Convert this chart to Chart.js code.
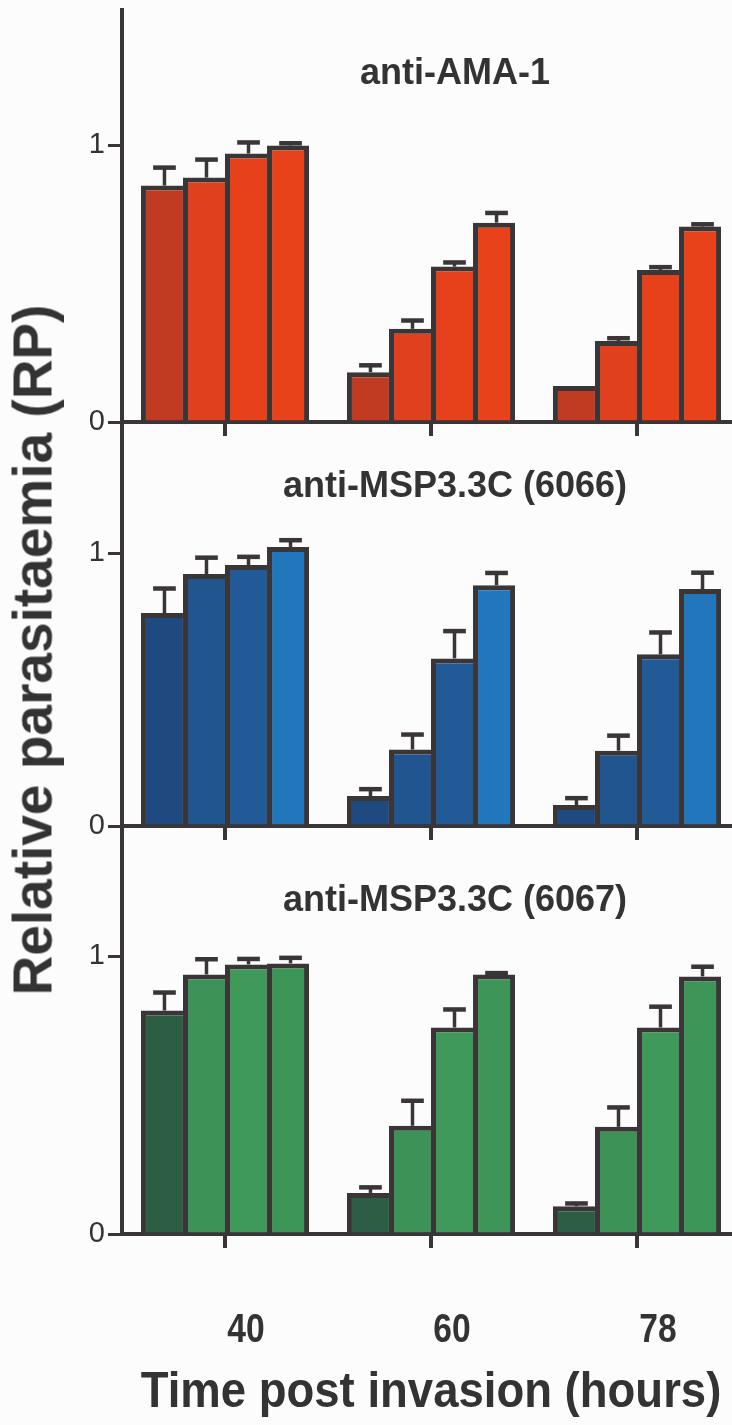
<!DOCTYPE html>
<html>
<head>
<meta charset="utf-8">
<script src="https://cdn.jsdelivr.net/npm/chart.js@4.4.1/dist/chart.umd.min.js"></script>
<style>
  body { margin: 0; background: #fcfcfc; overflow: hidden; }
  #figure { position: relative; width: 732px; height: 1425px; overflow: hidden; background: #fcfcfc; }
  #figure canvas { position: absolute; left: 0; }
  .label {
    position: absolute;
    white-space: nowrap;
    font-family: 'Liberation Sans', Arial, Helvetica, sans-serif;
    font-weight: bold;
    color: #333;
    line-height: 1;
    z-index: 5;
  }
  .panel-title { font-size: 36px; left: 455px; transform: translate(-50%, -50%); }
  #yTitle { font-size: 55px; left: 33px; top: 650px; transform: translate(-50%, -50%) rotate(-90deg); }
  #xTitle { font-size: 50px; left: 431px; top: 1390px; transform: translate(-50%, -50%) scaleX(0.91); }
</style>
</head>
<body>
<div id="figure">
  <canvas id="panelAma" width="740" height="452"></canvas>
  <canvas id="panel6066" width="740" height="444"></canvas>
  <canvas id="panel6067" width="740" height="598"></canvas>
  <div class="label panel-title" id="title0" style="top:72px"></div>
  <div class="label panel-title" id="title1" style="top:485px"></div>
  <div class="label panel-title" id="title2" style="top:899px"></div>
  <div class="label" id="yTitle">Relative parasitaemia (RP)</div>
  <div class="label" id="xTitle">Time post invasion (hours)</div>
</div>
<script>
const timepoints = ['40', '60', '78'];
const panelTitles = ['anti-AMA-1', 'anti-MSP3.3C (6066)', 'anti-MSP3.3C (6067)'];
const yTicks = [0, 1];

// one row per bar position inside a time group (4 bars per group)
const ama1Mean = [
  [0.855, 0.18, 0.13],
  [0.884, 0.337, 0.293],
  [0.971, 0.562, 0.55],
  [1.0, 0.721, 0.707]
];
const ama1Err = [
  [0.065, 0.025, 0],
  [0.065, 0.03, 0.01],
  [0.04, 0.015, 0.01],
  [0.008, 0.035, 0.008]
];

const msp6066Mean = [
  [0.78, 0.11, 0.077],
  [0.923, 0.28, 0.276],
  [0.956, 0.614, 0.629],
  [1.022, 0.882, 0.868]
];
const msp6066Err = [
  [0.09, 0.025, 0.025],
  [0.06, 0.055, 0.055],
  [0.03, 0.1, 0.08],
  [0.025, 0.045, 0.06]
];

const msp6067Mean = [
  [0.805, 0.148, 0.10],
  [0.935, 0.39, 0.386],
  [0.971, 0.744, 0.744],
  [0.975, 0.935, 0.928]
];
const msp6067Err = [
  [0.065, 0.02, 0.01],
  [0.055, 0.09, 0.07],
  [0.02, 0.065, 0.075],
  [0.02, 0.005, 0.035]
];

const ama1Colors = ['#c03b22', '#e0401d', '#e6411b', '#e8421a'];
const msp6066Colors = ['#1f4a80', '#20558f', '#215a96', '#2176bc'];
const msp6067Colors = ['#2b5e42', '#3d9357', '#3f995b', '#3d9558'];

const AXIS = '#3a3536';
const TEXT = '#333';
const FONT = "'Liberation Sans', Arial, Helvetica, sans-serif";
const PAD_TOP = 20;
const BORDER = 5;

// only the upper half of each error bar is drawn, like the usual bar+SEM style
const errorBarPlugin = {
  id: 'errorBars',
  afterDatasetsDraw(chart, args, opts) {
    const ctx = chart.ctx;
    const y = chart.scales.y;
    ctx.save();
    ctx.strokeStyle = AXIS;
    chart.data.datasets.forEach((ds, k) => {
      chart.getDatasetMeta(k).data.forEach((bar, i) => {
        const e = opts.errors[k][i];
        if (!e) return;
        const cx = bar.x + BORDER / 2;
        const top = y.getPixelForValue(ds.data[i] + e);
        const half = bar.width * 0.27;
        ctx.lineWidth = 3.5;
        ctx.beginPath();
        ctx.moveTo(cx, bar.y);
        ctx.lineTo(cx, top);
        ctx.stroke();
        ctx.lineWidth = 4.5;
        ctx.beginPath();
        ctx.moveTo(cx - half, top);
        ctx.lineTo(cx + half, top);
        ctx.stroke();
      });
    });
    ctx.restore();
  },
  afterDraw(chart, args, opts) {
    if (!opts.showLabels) return;
    const ctx = chart.ctx;
    const xs = chart.scales.x;
    ctx.save();
    ctx.fillStyle = TEXT;
    ctx.font = 'bold 40px ' + FONT;
    ctx.textAlign = 'center';
    ctx.textBaseline = 'middle';
    timepoints.forEach((t, i) => {
      ctx.save();
      ctx.translate(xs.getPixelForValue(i) + 21, chart.chartArea.bottom + 97);
      ctx.scale(0.84, 1);
      ctx.fillText(t, 0, 0);
      ctx.restore();
    });
    ctx.restore();
  }
};

function makePanel(canvasId, means, errs, colors, axisTop, axisBottom, yMax, showLabels) {
  const canvas = document.getElementById(canvasId);
  canvas.style.top = (axisTop - PAD_TOP) + 'px';
  const padBottom = canvas.height - PAD_TOP - (axisBottom - axisTop) - 20;

  return new Chart(canvas.getContext('2d'), {
    type: 'bar',
    data: {
      labels: timepoints,
      datasets: means.map((m, k) => ({
        label: 'bar ' + (k + 1),
        data: m,
        backgroundColor: colors[k],
        borderColor: AXIS,
        borderWidth: k === means.length - 1
          ? { top: BORDER, left: BORDER, right: BORDER, bottom: 0 }
          : { top: BORDER, left: BORDER, right: 0, bottom: 0 },
        borderSkipped: 'start',
        categoryPercentage: 0.816,
        barPercentage: 1.0
      }))
    },
    options: {
      responsive: false,
      animation: false,
      layout: { padding: { top: PAD_TOP, bottom: padBottom, left: 0, right: 0 } },
      plugins: {
        legend: { display: false },
        tooltip: { enabled: false },
        errorBars: { errors: errs, showLabels: showLabels }
      },
      scales: {
        x: {
          offset: true,
          grid: { offset: false, drawOnChartArea: false, drawTicks: true, tickLength: 14, lineWidth: 4, color: AXIS },
          border: { color: AXIS, width: 4 },
          ticks: { display: false },
          afterFit: s => { s.height = 20; }
        },
        y: {
          min: 0,
          max: yMax,
          grid: { drawOnChartArea: false, tickLength: 14, lineWidth: 3, color: AXIS },
          border: { color: AXIS, width: 4 },
          ticks: { font: { family: FONT, size: 29 }, color: TEXT, padding: 3 },
          afterBuildTicks: s => { s.ticks = yTicks.map(v => ({ value: v })); },
          afterFit: s => { s.width = 122; s.paddingTop = 0; s.paddingBottom = 0; }
        }
      }
    },
    plugins: [errorBarPlugin]
  });
}

panelTitles.forEach((t, i) => { document.getElementById('title' + i).textContent = t; });

makePanel('panelAma', ama1Mean, ama1Err, ama1Colors, 10, 422, 1.49, false);
makePanel('panel6066', msp6066Mean, msp6066Err, msp6066Colors, 422, 826, 1.48, false);
makePanel('panel6067', msp6067Mean, msp6067Err, msp6067Colors, 826, 1234, 1.47, true);
</script>
</body>
</html>
